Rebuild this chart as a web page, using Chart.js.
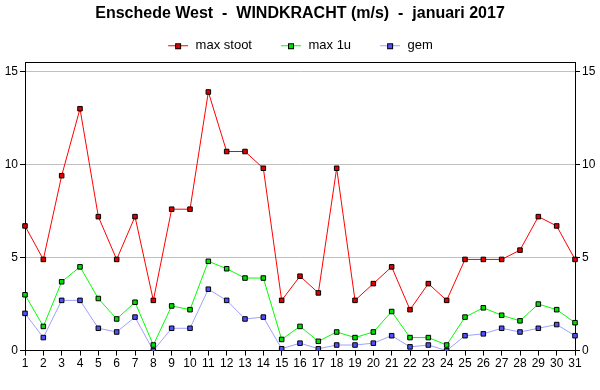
<!doctype html>
<html lang="en">
  <head>
    <meta charset="utf-8">
    <title>Enschede West - WINDKRACHT januari 2017</title>
    <style>
      * { margin: 0; padding: 0; }
      body { background: #fff; }
      .chartBox { width: 600px; height: 390px; }
    </style>
  </head>
  <body>
    <div class="chartBox">
      <canvas id="myChart" width="600" height="390"></canvas>
    </div>
    <script src="https://cdn.jsdelivr.net/npm/chart.js"></script>
    <script>
    // setup
    const days = ['1','2','3','4','5','6','7','8','9','10','11','12','13','14','15','16',
                  '17','18','19','20','21','22','23','24','25','26','27','28','29','30','31'];
    const maxStoot = [6.7, 4.9, 9.4, 13.0, 7.2, 4.9, 7.2, 2.7, 7.6, 7.6, 13.9, 10.7, 10.7, 9.8, 2.7, 4.0,
                      3.1, 9.8, 2.7, 3.6, 4.5, 2.2, 3.6, 2.7, 4.9, 4.9, 4.9, 5.4, 7.2, 6.7, 4.9];
    const max1u = [3.0, 1.3, 3.7, 4.5, 2.8, 1.7, 2.6, 0.3, 2.4, 2.2, 4.8, 4.4, 3.9, 3.9, 0.6, 1.3,
                   0.5, 1.0, 0.7, 1.0, 2.1, 0.7, 0.7, 0.3, 1.8, 2.3, 1.9, 1.6, 2.5, 2.2, 1.5];
    const gem = [2.0, 0.7, 2.7, 2.7, 1.2, 1.0, 1.8, 0.0, 1.2, 1.2, 3.3, 2.7, 1.7, 1.8, 0.1, 0.4,
                 0.1, 0.3, 0.3, 0.4, 0.8, 0.2, 0.3, 0.0, 0.8, 0.9, 1.2, 1.0, 1.2, 1.4, 0.8];
    const yTicks = [0, 5, 10, 15];

    const font = "'Liberation Sans', Arial, sans-serif";

    // small line + square marker for the legend
    function legendIcon(lineColor, fillColor) {
      const c = document.createElement('canvas');
      c.width = 22; c.height = 9;
      const g = c.getContext('2d');
      g.strokeStyle = lineColor;
      g.lineWidth = 1;
      g.beginPath(); g.moveTo(1, 4.5); g.lineTo(21, 4.5); g.stroke();
      g.fillStyle = fillColor;
      g.fillRect(8.5, 2.5, 5, 5);
      g.strokeStyle = '#000';
      g.strokeRect(8.5, 2.5, 5, 5);
      return c;
    }

    function series(label, values, lineColor, fillColor) {
      return {
        label,
        data: values,
        borderColor: lineColor,
        borderWidth: 1,
        backgroundColor: fillColor,
        pointStyle: 'rect',
        pointRadius: 3.2,
        pointBorderColor: '#000',
        pointBorderWidth: 1,
        pointBackgroundColor: fillColor,
        tension: 0,
        legendIcon: legendIcon(lineColor, fillColor)
      };
    }

    const data = {
      labels: days,
      datasets: [
        series('max stoot', maxStoot, '#ff0000', '#e00000'),
        series('max 1u', max1u, '#00ff00', '#00e000'),
        series('gem', gem, '#a0a0ff', '#5050ff')
      ]
    };

    // frame line on top of the plot area
    const frame = {
      id: 'frame',
      afterDraw(chart) {
        const { ctx, chartArea: a } = chart;
        ctx.save();
        ctx.strokeStyle = '#000';
        ctx.lineWidth = 1;
        ctx.beginPath();
        ctx.moveTo(a.left, Math.round(a.top) + 0.5);
        ctx.lineTo(a.right, Math.round(a.top) + 0.5);
        ctx.stroke();
        ctx.restore();
      }
    };

    const keepTicks = (scale) => {
      scale.ticks = yTicks.map(v => ({ value: v }));
    };

    // config
    const config = {
      type: 'line',
      data,
      options: {
        responsive: false,
        animation: false,
        layout: { padding: { top: 2, bottom: 18 } },
        plugins: {
          title: {
            display: true,
            text: 'Enschede West  -  WINDKRACHT (m/s)  -  januari 2017',
            color: '#000',
            font: { family: font, size: 16, weight: 'bold' },
            padding: { top: 2, bottom: -12 }
          },
          legend: {
            labels: {
              color: '#000',
              font: { family: font, size: 13 },
              usePointStyle: true,
              pointStyleWidth: 22,
              padding: 28,
              generateLabels(chart) {
                return chart.data.datasets.map((ds, i) => ({
                  text: ds.label,
                  pointStyle: ds.legendIcon,
                  fontColor: '#000',
                  lineWidth: 0,
                  datasetIndex: i
                }));
              }
            }
          },
          tooltip: { enabled: false }
        },
        scales: {
          x: {
            offset: false,
            grid: { display: true, drawOnChartArea: false, tickLength: 5, tickColor: '#000' },
            border: { color: '#000' },
            ticks: { color: '#000', font: { family: font, size: 12 }, padding: 1, maxRotation: 0, autoSkip: false }
          },
          y: {
            position: 'left',
            min: 0,
            max: 15.5,
            afterBuildTicks: keepTicks,
            afterFit(scale) { scale.width = 25; },
            grid: {
              color: (c) => c.tick && c.tick.value === 0 ? 'rgba(0,0,0,0)' : '#c0c0c0',
              tickColor: '#000',
              tickLength: 5
            },
            border: { color: '#000' },
            ticks: { color: '#000', font: { family: font, size: 12 }, padding: 2 }
          },
          y2: {
            position: 'right',
            min: 0,
            max: 15.5,
            afterBuildTicks: keepTicks,
            afterFit(scale) { scale.width = 25; },
            grid: { drawOnChartArea: false, tickColor: '#000', tickLength: 5 },
            border: { color: '#000' },
            ticks: { color: '#000', font: { family: font, size: 12 }, padding: 2 }
          }
        }
      },
      plugins: [frame]
    };

    // render init block
    const myChart = new Chart(document.getElementById('myChart'), config);
    </script>
  </body>
</html>
